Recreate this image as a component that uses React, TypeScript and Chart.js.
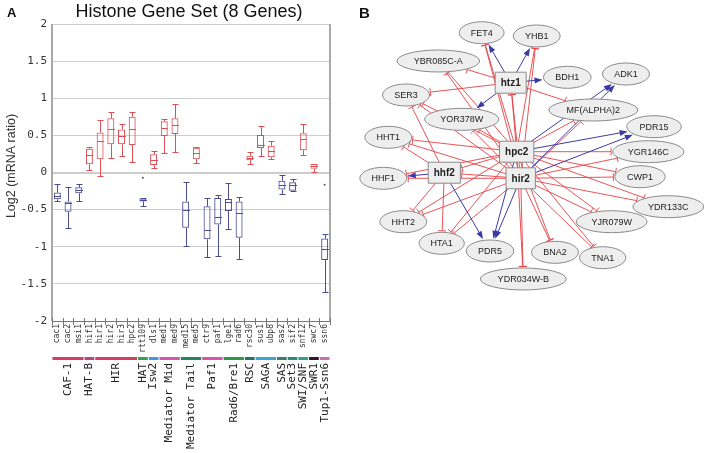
import React, { useEffect, useRef } from 'react';
import { Chart, registerables } from 'chart.js';
Chart.register(...registerables);

// ---------- Panel A data ----------
const categories = ['cac1','cac2','msi1','hif1','hir1','hir2','hir3','hpc2','rtt109','dls1','med1','med9','med15','med5','ctr9','paf1','lge1','rad6','rsc30','sus1','ubp8','sas2','sif2','snf12','swc7','ssn6'];
const whiskerLow  = [-0.38,-0.745,-0.38, 0.03,-0.045, 0.19, 0.22, 0.14,-0.455, 0.067, 0.26, 0.27,-0.99, 0.125,-1.135,-1.12,-0.765,-1.16, 0.11, 0.22, 0.18,-0.29,-0.25, 0.24, 0.005,-1.61];
const boxLow      = [-0.36,-0.53,-0.28, 0.11, 0.18, 0.38, 0.38, 0.37,-0.39, 0.10, 0.49, 0.52,-0.745, 0.18,-0.90,-0.70,-0.52,-0.88, 0.166, 0.33, 0.205,-0.23,-0.245, 0.30, 0.05,-1.18];
const medians     = [-0.32,-0.41,-0.24, 0.24, 0.425, 0.58, 0.49, 0.585,-0.37, 0.17, 0.595, 0.64,-0.51, 0.26,-0.78,-0.60,-0.40,-0.545, 0.197, 0.37, 0.29,-0.165,-0.175, 0.45, 0.085,-1.035];
const boxHigh     = [-0.27,-0.39,-0.20, 0.32, 0.54, 0.73, 0.58, 0.75,-0.35, 0.245, 0.69, 0.73,-0.39, 0.335,-0.455,-0.345,-0.357,-0.39, 0.225, 0.505, 0.36,-0.11,-0.13, 0.53, 0.115,-0.89];
const whiskerHigh = [-0.155,-0.20,-0.155, 0.35, 0.71, 0.82, 0.65, 0.82,-0.34, 0.295, 0.72, 0.92,-0.134, 0.35,-0.345,-0.30,-0.135,-0.335, 0.28, 0.63, 0.43,-0.03,-0.09, 0.65, 0.117,-0.825];
const outlierCategories = ['rtt109','ssn6'];
const outlierValues = [-0.07,-0.165];
const groupNames = ['CAF-1','HAT-B','HIR','HAT','Isw2','Mediator Mid','Mediator Tail','Paf1','Rad6/Bre1','RSC','SAGA','SAS','Set3','SWI/SNF','SWR1','Tup1-Ssn6'];
const groupSizes = [3,1,4,1,1,2,2,2,2,1,2,1,1,1,1,1];
const groupColors = ['#d83c62','#b2458f','#d83c62','#3aa046','#3b9ad6','#d655a6','#23875e','#d655a6','#2c9a48','#2a7070','#3ba3d8','#3d7a70','#2a8a80','#2fa08a','#2a1830','#c272b2'];
const chartTitle = 'Histone Gene Set (8 Genes)';
const yTitle = 'Log2 (mRNA ratio)';

// ---------- Panel B data ----------
const nodeNames = ['FET4','YHB1','YBR085C-A','BDH1','ADK1','SER3','htz1','MF(ALPHA)2','YOR378W','PDR15','HHT1','hpc2','YGR146C','HHF1','hhf2','hir2','CWP1','YDR133C','HHT2','YJR079W','HTA1','PDR5','BNA2','TNA1','YDR034W-B'];
const nodeX = [131.7,186.7,88.3,217.3,276,56,160.7,243.3,111.7,304,38.3,166.7,298.3,33.3,94.3,170.7,290,318.3,53.3,261.7,91.7,140,205,252.7,173.3];
const nodeY = [32.7,36,61,77.3,74,95,82.7,110,119.3,126.7,137.3,151.7,151.7,178.3,172.7,178.3,176.7,206.7,221.7,221.7,243.3,251,252.3,257.7,279];
const regulators = ['htz1','hpc2','hir2','hhf2'];
const hubSources = ['hpc2','hir2'];
const hubInhibited = ['FET4','YHB1','YBR085C-A','SER3','HHT1','HHF1','HHT2','HTA1','YOR378W','MF(ALPHA)2','YGR146C','CWP1','YDR133C','YJR079W','TNA1','BNA2','YDR034W-B','htz1','hhf2'];
const hubActivated = ['PDR15','ADK1','PDR5'];
const htz1Activated = ['FET4','YHB1','BDH1','YOR378W'];
const htz1Inhibited = ['YBR085C-A','SER3','MF(ALPHA)2'];
const hhf2Activated = ['HHF1','PDR5'];
const hhf2Inhibited = ['SER3','HHT1','HHT2','HTA1'];

const edgeSource: string[] = [];
const edgeTarget: string[] = [];
const edgeKind: string[] = [];
function addEdges(src: string, targets: string[], kind: string) {
  targets.forEach(t => { edgeSource.push(src); edgeTarget.push(t); edgeKind.push(kind); });
}
hubSources.forEach(s => { addEdges(s, hubInhibited, 'inhibit'); });
addEdges('htz1', htz1Inhibited, 'inhibit');
addEdges('hhf2', hhf2Inhibited, 'inhibit');
hubSources.forEach(s => { addEdges(s, hubActivated, 'activate'); });
addEdges('htz1', htz1Activated, 'activate');
addEdges('hhf2', hhf2Activated, 'activate');

const RED_BOX = '#dc5055';
const BLUE_BOX = '#4a4c94';
const SANS = '"Liberation Sans", Arial, sans-serif';
const MONO = '"DejaVu Sans Mono", monospace';

const boxPlugin = {
  id: 'boxExtras',
  afterDatasetsDraw(chart: any) {
    const { ctx, scales: { x, y } } = chart;
    const meta = chart.getDatasetMeta(0);
    ctx.save();
    ctx.lineWidth = 1;
    categories.forEach((c, i) => {
      const bar = meta.data[i];
      const cx = Math.round(bar.x) + 0.5;
      const half = bar.width / 2;
      const col = medians[i] > 0 ? RED_BOX : BLUE_BOX;
      ctx.strokeStyle = col;
      ctx.beginPath();
      const ym = Math.round(y.getPixelForValue(medians[i])) + 0.5;
      ctx.moveTo(cx - half, ym); ctx.lineTo(cx + half, ym);
      const yh = y.getPixelForValue(boxHigh[i]);
      const ywh = Math.round(y.getPixelForValue(whiskerHigh[i])) + 0.5;
      ctx.moveTo(cx, yh); ctx.lineTo(cx, ywh);
      ctx.moveTo(cx - 3, ywh); ctx.lineTo(cx + 3, ywh);
      const yl = y.getPixelForValue(boxLow[i]);
      const ywl = Math.round(y.getPixelForValue(whiskerLow[i])) + 0.5;
      ctx.moveTo(cx, yl); ctx.lineTo(cx, ywl);
      ctx.moveTo(cx - 3, ywl); ctx.lineTo(cx + 3, ywl);
      ctx.stroke();
    });
    ctx.fillStyle = '#555';
    outlierCategories.forEach((c, k) => {
      const i = categories.indexOf(c);
      ctx.beginPath();
      ctx.arc(x.getPixelForValue(i), y.getPixelForValue(outlierValues[k]), 1, 0, Math.PI * 2);
      ctx.fill();
    });
    ctx.restore();
  },
  afterDraw(chart: any) {
    const { ctx, chartArea, scales: { x } } = chart;
    const { left, right, top, bottom } = chartArea;
    ctx.save();
    ctx.strokeStyle = '#a8a8a8';
    ctx.lineWidth = 2;
    ctx.beginPath();
    ctx.moveTo(left, top); ctx.lineTo(left, bottom);
    ctx.moveTo(right, top); ctx.lineTo(right, bottom);
    ctx.stroke();
    ctx.strokeStyle = '#777';
    ctx.lineWidth = 1;
    ctx.beginPath();
    ctx.moveTo(left, Math.round(bottom) + 0.5); ctx.lineTo(right, Math.round(bottom) + 0.5);
    const colW = x.getPixelForValue(1) - x.getPixelForValue(0);
    for (let i = 0; i <= categories.length; i++) {
      const xb = Math.round(x.getPixelForValue(0) - colW / 2 + i * colW) + 0.5;
      ctx.moveTo(xb, bottom - 3); ctx.lineTo(xb, bottom + 4);
    }
    ctx.stroke();
    let s = 0;
    groupNames.forEach((g, k) => {
      const n = groupSizes[k];
      const x0 = x.getPixelForValue(s) - colW / 2;
      const x1 = x.getPixelForValue(s + n - 1) + colW / 2;
      ctx.fillStyle = groupColors[k];
      ctx.fillRect(x0 + 0.5, 357, x1 - x0 - 1, 3);
      ctx.save();
      ctx.translate((x0 + x1) / 2, 363);
      ctx.rotate(-Math.PI / 2);
      ctx.font = '11px ' + MONO;
      ctx.fillStyle = '#222';
      ctx.textAlign = 'right';
      ctx.textBaseline = 'middle';
      ctx.fillText(g, 0, 0);
      ctx.restore();
      s += n;
    });
    ctx.fillStyle = '#111';
    ctx.font = '18px ' + SANS;
    ctx.textAlign = 'center';
    ctx.textBaseline = 'alphabetic';
    ctx.fillText(chartTitle, 189, 17);
    ctx.font = 'bold 13px ' + SANS;
    ctx.textAlign = 'left';
    ctx.fillText('A', 7, 17);
    ctx.save();
    ctx.translate(12, 166);
    ctx.rotate(-Math.PI / 2);
    ctx.font = '12.5px ' + SANS;
    ctx.fillStyle = '#333';
    ctx.textAlign = 'center';
    ctx.textBaseline = 'middle';
    ctx.fillText(yTitle, 0, 0);
    ctx.restore();
    ctx.restore();
  }
};

const networkPlugin = {
  id: 'network',
  afterDatasetsDraw(chart: any) {
    const { ctx, scales: { x, y } } = chart;
    ctx.save();
    const sizes = nodeNames.map(n => {
      const reg = regulators.includes(n);
      ctx.font = reg ? 'bold 10px ' + SANS : '9px ' + SANS;
      const w = ctx.measureText(n).width;
      return reg ? { hw: w / 2 + 5.5, hh: 10.5, reg } : { hw: w * 0.7 + 7, hh: 11, reg };
    });
    const P = (name: string) => {
      const i = nodeNames.indexOf(name);
      return { x: x.getPixelForValue(nodeX[i]), y: y.getPixelForValue(nodeY[i]), i };
    };
    const drawEdge = (k: number) => {
      const s = P(edgeSource[k]);
      const t = P(edgeTarget[k]);
      const sz = sizes[t.i];
      const dx = s.x - t.x, dy = s.y - t.y;
      const len = Math.hypot(dx, dy);
      let f;
      if (sz.reg) f = Math.min(sz.hw / Math.abs(dx || 1e-6), sz.hh / Math.abs(dy || 1e-6));
      else f = 1 / Math.sqrt((dx / sz.hw) ** 2 + (dy / sz.hh) ** 2);
      const ex = t.x + dx * f + (dx / len) * 1.5;
      const ey = t.y + dy * f + (dy / len) * 1.5;
      const ux = -dx / len, uy = -dy / len;
      const act = edgeKind[k] === 'activate';
      const col = act ? 'rgb(58,60,165)' : 'rgba(230,60,65,0.88)';
      ctx.strokeStyle = col;
      ctx.fillStyle = col;
      ctx.lineWidth = 1;
      ctx.beginPath();
      ctx.moveTo(s.x, s.y);
      if (act) ctx.lineTo(ex - ux * 6, ey - uy * 6); else ctx.lineTo(ex, ey);
      ctx.stroke();
      if (act) {
        ctx.beginPath();
        ctx.moveTo(ex, ey);
        ctx.lineTo(ex - ux * 8 - uy * 3, ey - uy * 8 + ux * 3);
        ctx.lineTo(ex - ux * 8 + uy * 3, ey - uy * 8 - ux * 3);
        ctx.closePath();
        ctx.fill();
      } else {
        ctx.beginPath();
        ctx.moveTo(ex - uy * 4, ey + ux * 4);
        ctx.lineTo(ex + uy * 4, ey - ux * 4);
        ctx.stroke();
      }
    };
    edgeKind.forEach((k, i) => { if (k === 'inhibit') drawEdge(i); });
    edgeKind.forEach((k, i) => { if (k === 'activate') drawEdge(i); });
    nodeNames.forEach((n, i) => {
      const p = P(n);
      const sz = sizes[i];
      ctx.beginPath();
      if (sz.reg) ctx.rect(p.x - sz.hw, p.y - sz.hh, sz.hw * 2, sz.hh * 2);
      else ctx.ellipse(p.x, p.y, sz.hw, sz.hh, 0, 0, Math.PI * 2);
      ctx.fillStyle = '#eeeeee';
      ctx.fill();
      ctx.strokeStyle = '#8a8a8a';
      ctx.lineWidth = 1;
      ctx.stroke();
      ctx.fillStyle = '#222';
      ctx.font = sz.reg ? 'bold 10px ' + SANS : '9px ' + SANS;
      ctx.textAlign = 'center';
      ctx.textBaseline = 'middle';
      ctx.fillText(n, p.x, p.y + 0.5);
    });
    ctx.fillStyle = '#111';
    ctx.font = 'bold 15px ' + SANS;
    ctx.textAlign = 'left';
    ctx.textBaseline = 'alphabetic';
    ctx.fillText('B', 9, 18);
    ctx.restore();
  }
};

export default function App() {
  const refA = useRef<HTMLCanvasElement>(null);
  const refB = useRef<HTMLCanvasElement>(null);
  useEffect(() => {
    const a = new Chart(refA.current as HTMLCanvasElement, {
      type: 'bar',
      data: {
        labels: categories,
        datasets: [{
          data: categories.map((_, i) => [boxLow[i], boxHigh[i]]) as any,
          backgroundColor: 'rgba(255,255,255,0)',
          borderColor: medians.map(m => (m > 0 ? RED_BOX : BLUE_BOX)),
          borderWidth: 1,
          borderSkipped: false,
          barPercentage: 0.65,
          categoryPercentage: 1,
        }],
      },
      options: {
        responsive: false,
        animation: false,
        layout: { padding: { left: 0, right: 20, top: 24, bottom: 0 } },
        plugins: { legend: { display: false }, tooltip: { enabled: false }, title: { display: false } },
        scales: {
          x: {
            grid: { display: false, drawTicks: false },
            border: { display: false },
            ticks: { autoSkip: false, maxRotation: 90, minRotation: 90, padding: 3, color: '#333', font: { family: MONO, size: 8 } },
            afterFit: (s: any) => { s.height = 132; },
          },
          y: {
            min: -2, max: 2,
            grid: { drawTicks: false, color: '#cdcdcd', lineWidth: (c: any) => (c.tick && c.tick.value === 0 ? 2 : 1) },
            border: { display: false },
            ticks: { stepSize: 0.5, padding: 5, color: '#333', font: { family: MONO, size: 11 }, callback: (v: any) => String(v) },
            afterFit: (s: any) => { s.width = 52; },
          },
        },
      },
      plugins: [boxPlugin],
    } as any);
    const b = new Chart(refB.current as HTMLCanvasElement, {
      type: 'scatter',
      data: { datasets: [{ data: nodeNames.map((_, i) => ({ x: nodeX[i], y: nodeY[i] })), pointRadius: 0 }] },
      options: {
        responsive: false,
        animation: false,
        layout: { padding: 0 },
        plugins: { legend: { display: false }, tooltip: { enabled: false } },
        scales: {
          x: { display: false, min: 0, max: 354 },
          y: { display: false, min: 0, max: 300, reverse: true },
        },
      },
      plugins: [networkPlugin],
    } as any);
    return () => { a.destroy(); b.destroy(); };
  }, []);
  return (
    <div style={{ position: 'fixed', left: 0, top: 0, width: 704, height: 453, background: '#fff' }}>
      <canvas ref={refA} width={350} height={453} style={{ position: 'absolute', left: 0, top: 0, width: 350, height: 453 }} />
      <canvas ref={refB} width={354} height={300} style={{ position: 'absolute', left: 350, top: 0, width: 354, height: 300 }} />
    </div>
  );
}
